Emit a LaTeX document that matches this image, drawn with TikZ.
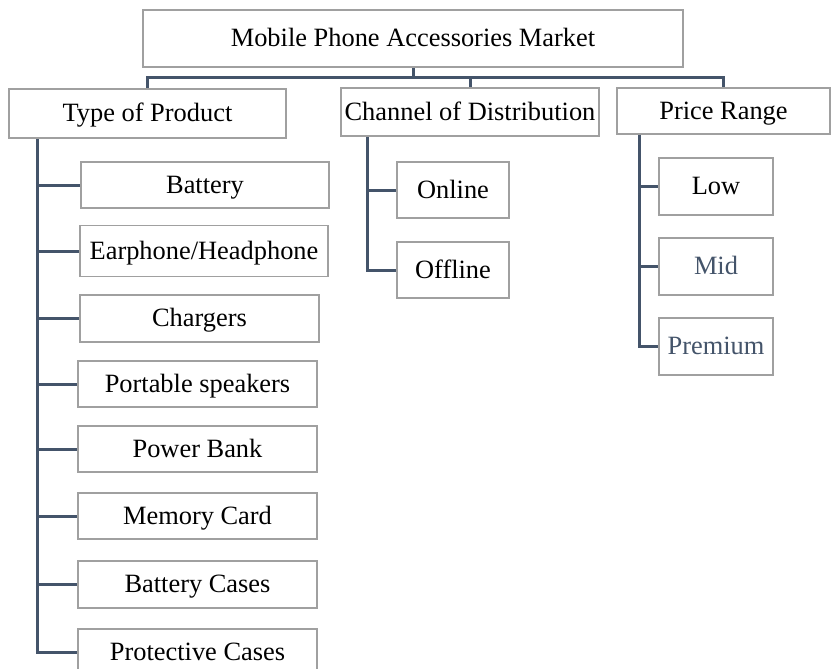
\documentclass[tikz,border=0pt]{standalone}
\usepackage{fontspec}
\setmainfont{Liberation Serif}
\usetikzlibrary{backgrounds}
\begin{document}
\begin{tikzpicture}[x=1pt,y=-1pt,
  box/.style={draw=boxgray, line width=1.2pt, fill=white, inner sep=0pt, rectangle,
    font=\fontsize{26.4}{30}\selectfont, text=black, text height=17.5pt, text depth=1pt},
  conn/.style={draw=linecol, line width=3pt, line cap=rect}]
\definecolor{boxgray}{HTML}{A0A0A0}
\definecolor{linecol}{HTML}{44546A}
\definecolor{slate}{HTML}{44546A}
\useasboundingbox (0,0) rectangle (831,669);

\coordinate (tx) at (37.5,138);
\coordinate (cx) at (367,136);
\coordinate (px) at (639,134);

\node[box, minimum width=540pt, minimum height=57pt] (root) at (413,38.5) {Mobile Phone Accessories Market};
\node[box, minimum width=277pt, minimum height=49pt] (type) at (147.5,113.5) {Type of Product};
\node[box, minimum width=258pt, minimum height=48pt] (chan) at (470,112) {Channel of Distribution};
\node[box, minimum width=213pt, minimum height=46pt] (price) at (723.5,111) {Price Range};

\node[box, minimum width=248pt, minimum height=46pt] (bat) at (205,185) {Battery};
\node[box, minimum width=248pt, minimum height=51pt] (ear) at (204,251) {Earphone/Headphone};
\node[box, minimum width=239pt, minimum height=47pt] (chg) at (199.5,318.5) {Chargers};
\node[box, minimum width=239pt, minimum height=46pt] (spk) at (197.5,384) {Portable speakers};
\node[box, minimum width=239pt, minimum height=46pt] (pwr) at (197.5,449) {Power Bank};
\node[box, minimum width=239pt, minimum height=46pt] (mem) at (197.5,516) {Memory Card};
\node[box, minimum width=239pt, minimum height=47pt] (bcs) at (197.5,584.5) {Battery Cases};
\node[box, minimum width=239pt, minimum height=46pt] (pcs) at (197.5,652) {Protective Cases};

\node[box, minimum width=112pt, minimum height=56pt] (onl) at (453,190) {Online};
\node[box, minimum width=112pt, minimum height=56pt] (off) at (453,270) {Offline};

\node[box, minimum width=114pt, minimum height=57pt] (low) at (716,186.5) {Low};
\node[box, minimum width=114pt, minimum height=57pt, text=slate] (mid) at (716,266.5) {Mid};
\node[box, minimum width=114pt, minimum height=57pt, text=slate] (prem) at (716,346.5) {Premium};

\begin{scope}[on background layer]
\fill[white] (0,0) rectangle (831,669);
\draw[conn] (root.south) -- ++(0,10) -| (type.north);
\draw[conn] (root.south) -- ++(0,10) -| (chan.north);
\draw[conn] (root.south) -- ++(0,10) -| (price.north);
\foreach \c in {bat,ear,chg,spk,pwr,mem,bcs,pcs} \draw[conn] (tx) |- (\c.west);
\foreach \c in {onl,off} \draw[conn] (cx) |- (\c.west);
\foreach \c in {low,mid,prem} \draw[conn] (px) |- (\c.west);
\end{scope}
\end{tikzpicture}
\end{document}
